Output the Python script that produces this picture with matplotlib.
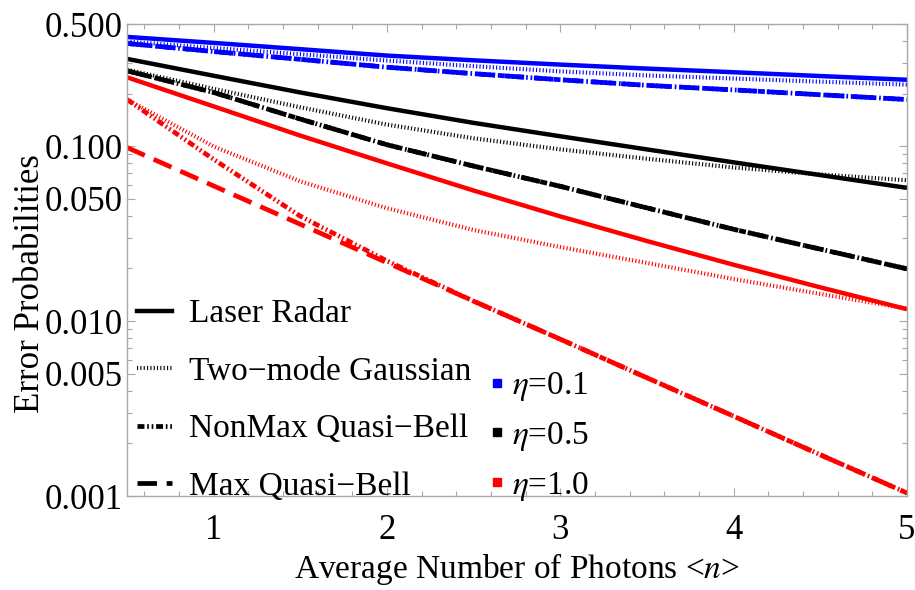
import matplotlib
matplotlib.use('Agg')
import matplotlib.pyplot as plt
from matplotlib.ticker import FixedLocator, FixedFormatter, NullFormatter
from matplotlib.lines import Line2D

plt.rc('font', family='Liberation Serif', size=24)
plt.rc('mathtext', fontset='stix')
plt.rc('lines', scale_dashes=False)

# average photon number
n = [0.5, 1.0, 1.5, 2.0, 2.5, 3.0, 3.5, 4.0, 4.5, 5.0]

# eta = 0.1
laser_01 = [0.422, 0.390, 0.359, 0.330, 0.310, 0.293, 0.278, 0.265, 0.252, 0.240]
gauss_01 = [0.397, 0.365, 0.336, 0.309, 0.287, 0.268, 0.254, 0.244, 0.234, 0.225]
nonmax_01 = [0.387, 0.348, 0.314, 0.283, 0.260, 0.240, 0.223, 0.210, 0.197, 0.185]
max_01 = [0.387, 0.348, 0.314, 0.283, 0.260, 0.240, 0.223, 0.210, 0.197, 0.185]

# eta = 0.5
laser_05 = [0.316, 0.253, 0.203, 0.165, 0.136, 0.114, 0.0959, 0.0809, 0.0684, 0.0578]
gauss_05 = [0.274, 0.213, 0.167, 0.133, 0.111, 0.0960, 0.0848, 0.0756, 0.0690, 0.0639]
nonmax_05 = [0.270, 0.203, 0.143, 0.102, 0.077, 0.059, 0.0444, 0.0335, 0.0258, 0.0199]
max_05 = [0.270, 0.203, 0.143, 0.102, 0.077, 0.059, 0.0444, 0.0335, 0.0258, 0.0199]

# eta = 1.0
laser_10 = [0.248, 0.169, 0.115, 0.0798, 0.0558, 0.0397, 0.0287, 0.0210, 0.0156, 0.0117]
gauss_10 = [0.185, 0.0997, 0.0630, 0.0442, 0.0332, 0.0265, 0.0215, 0.0174, 0.0143, 0.0118]
nonmax_10 = [0.185, 0.0841, 0.0398, 0.0221, 0.0130, 0.00788, 0.00474, 0.00286, 0.00172, 0.00104]
max_10 = [0.0984, 0.0593, 0.0358, 0.0216, 0.0130, 0.00788, 0.00474, 0.00286, 0.00172, 0.00104]

y_ticks = [0.001, 0.005, 0.010, 0.050, 0.100, 0.500]
y_ticklabels = ['0.001', '0.005', '0.010', '0.050', '0.100', '0.500']
scheme_labels = ['Laser Radar', 'Two\u2212mode Gaussian', 'NonMax Quasi\u2212Bell', 'Max Quasi\u2212Bell']
eta_labels = [r'$\eta$=0.1', r'$\eta$=0.5', r'$\eta$=1.0']
eta_colors = ['#0000ff', '#000000', '#ff0000']

# line styles: solid, dotted, dash-dot-dot, dashed
styles = [
    dict(ls='-', lw=3.2),
    dict(ls=(0, (0.8, 1.6)), lw=3.0),
    dict(ls=(0, (5, 2, 1.2, 2, 1.2, 2)), lw=3.4),
    dict(ls=(0, (14, 7)), lw=3.4),
]

fig = plt.figure(figsize=(9.15, 5.9), dpi=100)
ax = fig.add_axes([0.1388, 0.1593, 0.8525, 0.80])

groups = [
    (laser_01, gauss_01, nonmax_01, max_01),
    (laser_05, gauss_05, nonmax_05, max_05),
    (laser_10, gauss_10, nonmax_10, max_10),
]
for curves, c in zip(groups, eta_colors):
    laser, gauss, nonmax, mx = curves
    ax.plot(n, mx, color=c, dash_capstyle='butt', **styles[3])
    ax.plot(n, nonmax, color=c, dash_capstyle='butt', **styles[2])
    ax.plot(n, gauss, color=c, dash_capstyle='butt', **styles[1])
    ax.plot(n, laser, color=c, solid_capstyle='butt', **styles[0])

ax.set_yscale('log')
ax.set_xlim(0.5, 5)
ax.set_ylim(0.001, 0.5)

ax.xaxis.set_major_locator(FixedLocator([1, 2, 3, 4, 5]))
ax.xaxis.set_minor_locator(FixedLocator([0.6 + 0.2 * i for i in range(23)]))
ax.yaxis.set_major_locator(FixedLocator(y_ticks))
ax.yaxis.set_major_formatter(FixedFormatter(y_ticklabels))
minor_y = [k * 10.0 ** e for e in (-3, -2, -1) for k in range(1, 10)
           if k not in (1, 5) and k * 10.0 ** e < 0.5]
ax.yaxis.set_minor_locator(FixedLocator(minor_y))
ax.yaxis.set_minor_formatter(NullFormatter())

for s in ax.spines.values():
    s.set_color('#a8a8a8')
    s.set_linewidth(1.0)
ax.tick_params(which='both', direction='in', top=True, right=True, color='#a8a8a8', width=0.8)
ax.tick_params(which='major', length=6, labelsize=25)
ax.tick_params(which='minor', length=3.5)
ax.tick_params(axis='x', which='major', pad=13)
ax.tick_params(axis='y', which='major', pad=3)

ax.set_xlabel('Average Number of Photons <$n$>', fontsize=24, labelpad=3)
ax.set_ylabel('Error Probabilities', fontsize=25)
ax.yaxis.set_label_coords(-0.103, 0.45)

handles = [Line2D([], [], color='k', dash_capstyle='butt', **st) for st in styles]
leg1 = ax.legend(handles, scheme_labels, loc='lower left', bbox_to_anchor=(0.013, -0.012),
                 frameon=False, handlelength=1.05, handletextpad=0.5, labelspacing=0.81,
                 borderpad=0, borderaxespad=0, fontsize=24)
ax.add_artist(leg1)

sq = [Line2D([], [], ls='none', marker='s', ms=6, color=c) for c in eta_colors]
ax.legend(sq, eta_labels, loc='lower left', bbox_to_anchor=(0.464, -0.014),
          frameon=False, handlelength=0.5, handletextpad=0.2, labelspacing=0.5,
          borderpad=0, borderaxespad=0, fontsize=24)

fig.savefig('out.png', dpi=100)
